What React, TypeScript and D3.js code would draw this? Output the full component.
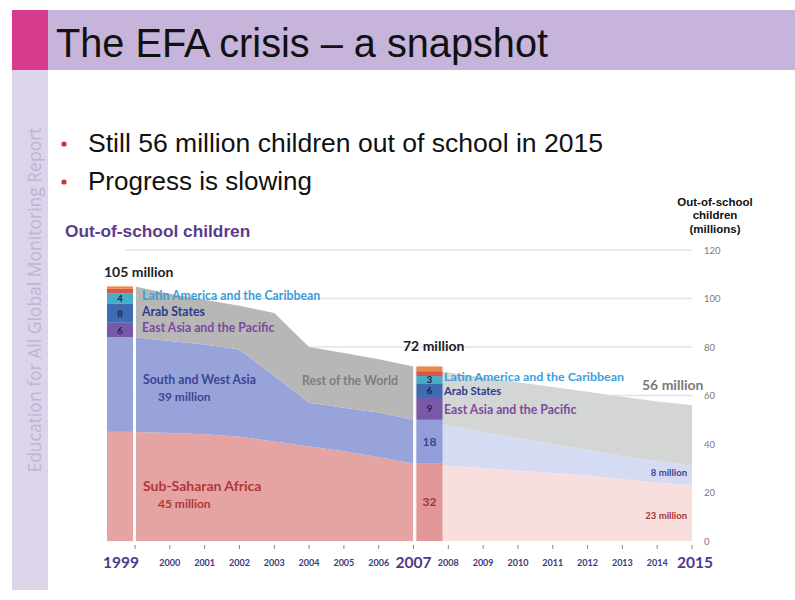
import React from "react";
import * as d3 from "d3";

const years = [1999, 2000, 2001, 2002, 2003, 2004, 2005, 2006, 2007, 2008, 2009, 2010, 2011, 2012, 2013, 2014, 2015];
const subSaharanAfrica = [45, 44.5, 44, 43, 41, 39, 37, 34.5, 32, 31, 30, 29, 28, 27, 25.5, 24, 23];
const southWestAsia = [39, 38, 37, 36, 27, 18, 18, 18.5, 18, 16.5, 15, 13.5, 12, 10.5, 9.5, 9, 8];
const restOfWorld = [21, 19.5, 18.5, 18, 26, 23, 22.5, 22, 22, 22, 22.5, 23, 23.5, 24, 24.5, 24.5, 25];

const barKeys = ["ssa", "swa", "eap", "arab", "lac", "other1", "other2"];
const bar1999 = [45, 39, 6, 8, 4, 2, 1];
const bar2007 = [32, 18, 9, 6, 3, 2, 2];
const barLabels1999 = ["", "", "6", "8", "4", "", ""];
const barLabels2007 = ["32", "18", "9", "6", "3", "", ""];

const yTicks = [0, 20, 40, 60, 80, 100, 120];
const gridTicks = [60, 80, 100, 120];
const bigYears = [1999, 2007, 2015];

const W = 795;
const H = 600;

export default function App() {
  const x = d3.scaleLinear().domain([1999, 2015]).range([135, 692]);
  const y = d3.scaleLinear().domain([0, 120]).range([541, 250]);

  const rows = years.map((yr, i) => ({
    year: yr,
    ssa: subSaharanAfrica[i],
    swa: southWestAsia[i],
    row: restOfWorld[i],
  }));
  const stack = d3.stack<any>().keys(["ssa", "swa", "row"]);
  const series = stack(rows);
  const area = d3
    .area<any>()
    .x((d) => x(d.data.year))
    .y0((d) => y(d[0]))
    .y1((d) => y(d[1]));

  const darkCols: Record<string, string> = { ssa: "#e6a3a3", swa: "#98a3da", row: "#b7b7b7" };
  const lightCols: Record<string, string> = { ssa: "#f9dede", swa: "#d5dbf3", row: "#d3d6d5" };
  const barCols: Record<string, string> = {
    ssa: "#e19797",
    swa: "#939ed8",
    eap: "#7a58a8",
    arab: "#3f6bb3",
    lac: "#45aec6",
    other1: "#d9534f",
    other2: "#ea8a48",
  };
  const barTextCols: Record<string, string> = {
    ssa: "#a83232",
    swa: "#3b4594",
    eap: "#2a1f4f",
    arab: "#1a2550",
    lac: "#1a2550",
    other1: "#000",
    other2: "#000",
  };

  const seg = (data: number[]) => {
    let acc = 0;
    return data.map((v, i) => {
      const s = { key: barKeys[i], y0: acc, y1: acc + v, v };
      acc += v;
      return s;
    });
  };
  const segs1999 = seg(bar1999);
  const segs2007 = seg(bar2007);
  const total1999 = d3.sum(bar1999);
  const total2007 = d3.sum(bar2007);

  const early = (s: any) => s.filter((d: any) => d.data.year <= 2007);
  const late = (s: any) => s.filter((d: any) => d.data.year >= 2007);

  const bar1999x = x(1999) - 28;
  const bar2007x = x(2007) + 3;
  const barW = 26;

  const labelFont = "Lato, 'Open Sans', sans-serif";

  return (
    <div style={{ position: "absolute", left: 0, top: 0 }}>
      <svg width={W} height={H} style={{ display: "block", background: "#fff" }}>
        {/* slide frame */}
        <rect x={12} y={10} width={36} height={60} fill="#d83a8e" />
        <rect x={48} y={10} width={W - 48} height={60} fill="#c6b4da" />
        <rect x={12} y={70} width={36} height={520} fill="#ddd4ea" />
        <text x={56} y={57} fontFamily="'Liberation Sans', Arial, sans-serif" fontSize={40} fill="#111" textLength={492} lengthAdjust="spacingAndGlyphs">
          The EFA crisis – a snapshot
        </text>
        <text
          transform="translate(41,300) rotate(-90)"
          textAnchor="middle"
          fontFamily="'Open Sans', sans-serif"
          fontSize={17.5}
          fill="#c0b3d3"
        >
          Education for All Global Monitoring Report
        </text>

        {/* bullets */}
        <g fontFamily="'Liberation Sans', Arial, sans-serif" fontSize={26} fill="#111">
          <circle cx={64} cy={144} r={2.6} fill="#c8352e" />
          <text x={88} y={152} textLength={515} lengthAdjust="spacingAndGlyphs">Still 56 million children out of school in 2015</text>
          <circle cx={64} cy={182} r={2.6} fill="#c8352e" />
          <text x={88} y={190}>Progress is slowing</text>
        </g>

        <text x={65} y={237} fontFamily="'Liberation Sans', Arial, sans-serif" fontWeight="bold" fontSize={17.3} fill="#5a3c8e">
          Out-of-school children
        </text>

        {/* right axis title */}
        <g fontFamily="'Liberation Sans', Arial, sans-serif" fontWeight="bold" fontSize={11.5} fill="#111" textAnchor="middle">
          <text x={715} y={206}>Out-of-school</text>
          <text x={715} y={219}>children</text>
          <text x={715} y={233}>(millions)</text>
        </g>

        {/* grid */}
        {gridTicks.map((t) => (
          <line key={t} x1={125} x2={x(2015)} y1={y(t)} y2={y(t)} stroke="#e3e0f0" strokeWidth={1.5} />
        ))}

        {/* areas */}
        {series.map((s: any) => (
          <path key={"d" + s.key} d={area(early(s)) || ""} fill={darkCols[s.key]} />
        ))}
        {series.map((s: any) => (
          <path key={"l" + s.key} d={area(late(s)) || ""} fill={lightCols[s.key]} />
        ))}

        {/* bars */}
        {segs1999.map((s) => (
          <rect key={"b99" + s.key} x={bar1999x} width={barW} y={y(s.y1)} height={y(s.y0) - y(s.y1)} fill={s.key === "ssa" ? darkCols.ssa : s.key === "swa" ? darkCols.swa : barCols[s.key]} />
        ))}
        {segs2007.map((s) => (
          <rect key={"b07" + s.key} x={bar2007x} width={barW} y={y(s.y1)} height={y(s.y0) - y(s.y1)} fill={barCols[s.key]} />
        ))}
        <line x1={x(1999)} x2={x(1999)} y1={y(0)} y2={y(total1999)} stroke="#fff" strokeWidth={2} />
        <line x1={x(2007) + 1} x2={x(2007) + 1} y1={y(0)} y2={y(total2007)} stroke="#fff" strokeWidth={2.5} />

        {/* bar labels */}
        <g fontFamily={labelFont} fontWeight="bold" textAnchor="middle">
          {segs1999.map((s, i) =>
            barLabels1999[i] ? (
              <text key={"t99" + i} x={bar1999x + barW / 2} y={y((s.y0 + s.y1) / 2) + 3.5} fontSize={9.5} fill={barTextCols[s.key]}>
                {barLabels1999[i]}
              </text>
            ) : null
          )}
          {segs2007.map((s, i) =>
            barLabels2007[i] ? (
              <text
                key={"t07" + i}
                x={bar2007x + barW / 2}
                y={y((s.y0 + s.y1) / 2) + (i < 2 ? 4 : 3.5)}
                fontSize={i < 2 ? 12 : 10}
                fill={barTextCols[s.key]}
              >
                {barLabels2007[i]}
              </text>
            ) : null
          )}
        </g>

        {/* annotations */}
        <g fontFamily={labelFont} fontWeight="bold">
          <text x={104} y={277} fontSize={14} fill="#222">105 million</text>
          <text x={403} y={351} fontSize={14} fill="#222">72 million</text>
          <text x={642} y={390} fontSize={14} fill="#7a7a7a">56 million</text>

          <text x={142} y={300} fontSize={12.3} fill="#3a9fd9">Latin America and the Caribbean</text>
          <text x={142} y={316} fontSize={12.3} fill="#2e3a8e">Arab States</text>
          <text x={142} y={332} fontSize={12.3} fill="#7b4b9c">East Asia and the Pacific</text>

          <text x={444} y={381} fontSize={11.2} fill="#3a9fd9" textLength={180} lengthAdjust="spacingAndGlyphs">Latin America and the Caribbean</text>
          <text x={444} y={395} fontSize={11.2} fill="#2e3a8e">Arab States</text>
          <text x={444} y={414} fontSize={12.3} fill="#7b4b9c">East Asia and the Pacific</text>

          <text x={143} y={384} fontSize={12.3} fill="#3b4594">South and West Asia</text>
          <text x={158} y={401} fontSize={12} fill="#3b4594">39 million</text>
          <text x={302} y={385} fontSize={12.3} fill="#7d7d7d">Rest of the World</text>
          <text x={143} y={491} fontSize={14} fill="#b03838">Sub-Saharan Africa</text>
          <text x={158} y={508} fontSize={12} fill="#b03838">45 million</text>

          <text x={687} y={476} fontSize={9.5} fill="#3b4594" textAnchor="end">8 million</text>
          <text x={687} y={519} fontSize={9.5} fill="#a83232" textAnchor="end">23 million</text>
        </g>

        {/* right axis */}
        <g fontFamily={labelFont} fontSize={9.5} fill="#7a7a7a">
          {yTicks.map((t) => (
            <text key={t} x={704} y={y(t) + 3.5}>
              {t}
            </text>
          ))}
        </g>

        {/* x axis */}
        {years.map((yr) => (
          <line key={"tk" + yr} x1={x(yr)} x2={x(yr)} y1={545} y2={549} stroke="#888" strokeWidth={1} />
        ))}
        <g fontFamily={labelFont} fontWeight="bold" textAnchor="middle">
          {years.map((yr) => {
            const big = bigYears.includes(yr);
            const dx = yr === 1999 ? -14 : yr === 2007 ? 0 : yr === 2015 ? 3 : 0;
            return (
              <text key={"lb" + yr} x={x(yr) + dx} y={big ? 568 : 566} fontSize={big ? 15.5 : 9} fill={big ? "#4a3a8c" : "#3d3a7a"}>
                {yr}
              </text>
            );
          })}
        </g>
      </svg>
    </div>
  );
}
